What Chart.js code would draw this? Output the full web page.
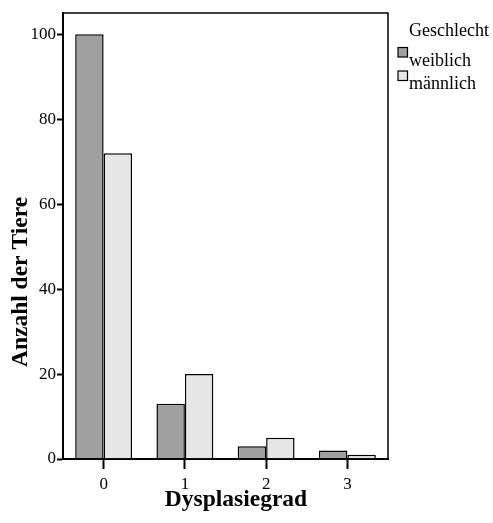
<!DOCTYPE html>
<html>
<head>
<meta charset="utf-8">
<script src="https://cdn.jsdelivr.net/npm/chart.js@4.4.0/dist/chart.umd.min.js"></script>
<style>
  html, body { margin: 0; padding: 0; background: #fff; }
  #wrap { width: 493px; height: 523px; }
</style>
</head>
<body>
<div id="wrap"><canvas id="myChart"></canvas></div>
<script>
const categories = ['0', '1', '2', '3'];
const weiblich = [100, 13, 3, 2];
const maennlich = [72, 20, 5, 1];
const seriesNames = ['weiblich', 'männlich'];
const legendTitle = 'Geschlecht';
const xTitle = 'Dysplasiegrad';
const yTitle = 'Anzahl der Tiere';
const yTicks = [0, 20, 40, 60, 80, 100];

const serif = '"Liberation Serif", "Times New Roman", serif';

// frame, legend and axis titles, placed like the SPSS output
const extras = {
    id: 'extras',
    afterDraw(chart) {
        const ctx = chart.ctx;
        const a = chart.chartArea;
        ctx.save();
        ctx.strokeStyle = '#000';
        ctx.lineWidth = 1.5;
        ctx.strokeRect(a.left, a.top, a.right - a.left, a.bottom - a.top);

        ctx.fillStyle = '#000';
        ctx.font = '18px ' + serif;
        ctx.textBaseline = 'alphabetic';
        ctx.textAlign = 'left';
        ctx.fillText(legendTitle, 409, 36);
        chart.data.datasets.forEach((ds, i) => {
            const y = 47.5 + i * 23.5;
            ctx.fillStyle = ds.backgroundColor;
            ctx.fillRect(398, y, 9.5, 9.5);
            ctx.strokeStyle = '#000';
            ctx.lineWidth = 1.2;
            ctx.strokeRect(398, y, 9.5, 9.5);
            ctx.fillStyle = '#000';
            ctx.fillText(ds.label, 409, 66 + i * 23);
        });

        ctx.font = 'bold 23.5px ' + serif;
        ctx.textAlign = 'center';
        ctx.textBaseline = 'middle';
        ctx.fillText(xTitle, 236, 500);
        ctx.translate(21, 282);
        ctx.rotate(-Math.PI / 2);
        ctx.fillText(yTitle, 0, 0);
        ctx.restore();
    }
};

const ctx = document.getElementById('myChart').getContext('2d');
const chart = new Chart(ctx, {
    type: 'bar',
    data: {
        labels: categories,
        datasets: [{
            label: seriesNames[0],
            data: weiblich,
            backgroundColor: '#a0a0a0',
            borderColor: '#000',
            borderWidth: 1.5
        }, {
            label: seriesNames[1],
            data: maennlich,
            backgroundColor: '#e6e6e6',
            borderColor: '#000',
            borderWidth: 1.5
        }]
    },
    options: {
        responsive: true,
        maintainAspectRatio: false,
        animation: false,
        layout: { padding: { left: 0, top: 13, right: 105, bottom: 0 } },
        plugins: { legend: { display: false }, tooltip: { enabled: false } },
        datasets: { bar: { categoryPercentage: 0.7, barPercentage: 1 } },
        scales: {
            x: {
                grid: { offset: false, drawOnChartArea: false, tickLength: 10, tickWidth: 2, color: '#000' },
                border: { display: true, width: 2, color: '#000' },
                ticks: { color: '#000', padding: 5, font: { family: serif, size: 17 } },
                afterFit: (scale) => { scale.height = 64; }
            },
            y: {
                min: 0,
                max: 105,
                grid: { drawOnChartArea: false, tickLength: 6, tickWidth: 2, color: '#000' },
                border: { display: true, width: 2, color: '#000' },
                ticks: { color: '#000', padding: 1, font: { family: serif, size: 17 } },
                afterBuildTicks: (scale) => { scale.ticks = yTicks.map(v => ({ value: v })); },
                afterFit: (scale) => { scale.width = 63; }
            }
        }
    },
    plugins: [extras]
});
</script>
</body>
</html>
